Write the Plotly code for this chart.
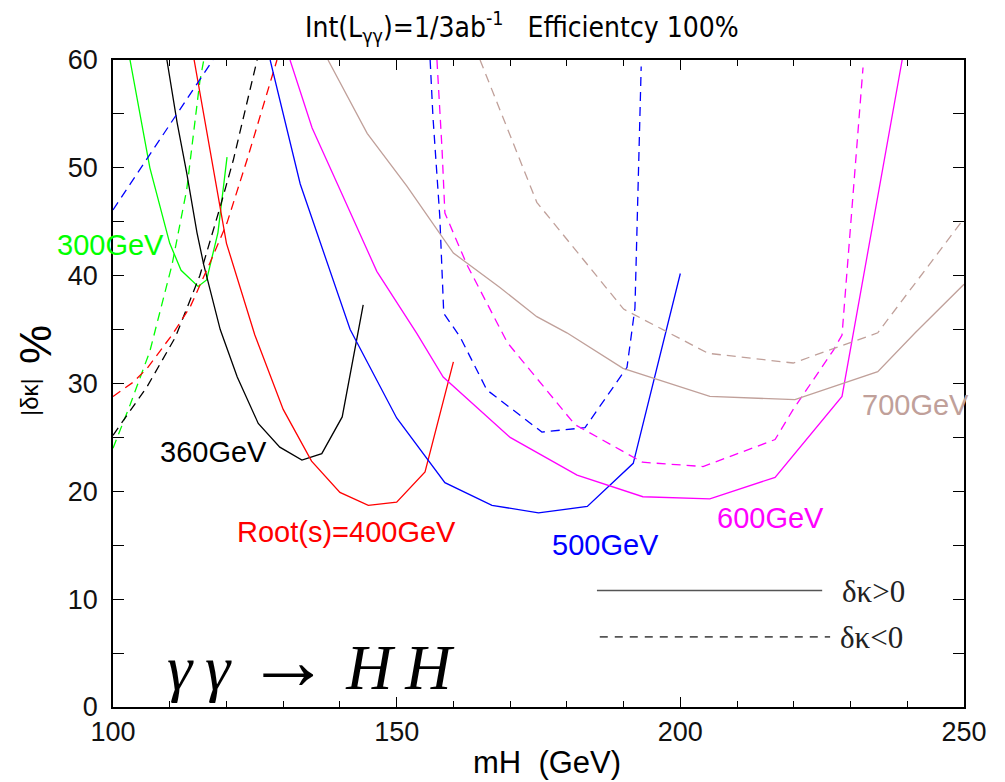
import plotly.graph_objects as go

# ---------------- data ----------------
# 300 GeV
mh_300_pos = [103, 106.5, 110, 112, 115, 116.5, 118.5, 120.1]
dk_300_pos = [60, 50, 43, 40.5, 39, 39.6, 44, 51]
mh_300_neg = [100, 103, 106.5, 110.4, 113, 115.3, 116]
dk_300_neg = [24, 28, 33, 41, 48, 58, 60]

# 360 GeV
mh_360_pos = [109.5, 111.3, 113, 114.8, 116, 118.9, 121.9, 125.6, 129.4, 133.3, 136.8, 140.4, 144.1]
dk_360_pos = [60, 54.2, 49.5, 44, 41, 35, 30.6, 26.3, 24.1, 22.9, 23.5, 26.9, 37.3]
mh_360_neg = [100, 106, 111, 115.3, 118.9, 121.2, 125.4]
dk_360_neg = [25.2, 29.7, 34.3, 40, 46.4, 50.7, 60]

# 400 GeV
mh_400_pos = [114.3, 117, 120, 125, 130, 135, 140, 145, 150, 155, 160]
dk_400_pos = [60, 52, 43, 34.5, 27.6, 22.8, 19.9, 18.7, 19.0, 21.8, 32.0]
mh_400_neg = [100, 103.5, 106, 110.4, 113.6, 117.1, 120.1, 123.6, 128.9]
dk_400_neg = [28.8, 30.1, 31.4, 34.5, 37.1, 41.2, 44.9, 50.7, 60]

# 500 GeV
mh_500_pos = [127.7, 133, 141.8, 150, 158.5, 166.8, 175, 183.6, 191.7, 200]
dk_500_pos = [60, 48.5, 35, 26.8, 20.8, 18.7, 18.0, 18.6, 22.6, 40.2]
mh_500_neg = [100, 117.6, None, 155.9, 156.4, 157.6, 158.3, 161.2, 165.9, 175.6, 183.2, 190.6, 192, 193.1]
dk_500_neg = [46.1, 60, None, 60, 54.7, 45.5, 36.5, 34.3, 29.4, 25.5, 25.9, 31.5, 37, 59.4]

# 600 GeV
mh_600_pos = [131.2, 135.1, 140, 146.5, 153.6, 158.2, 170, 181.8, 193.4, 205.2, 216.7, 228.5, 239.1]
dk_600_pos = [60, 53.7, 48, 40.4, 34.6, 30.6, 25, 21.5, 19.5, 19.3, 21.3, 28.8, 60]
mh_600_neg = [157.1, 158, 158.5, 162.4, 169.5, 181.4, 193.3, 204, 216.7, 219.9, 227, 228.5, 232.2]
dk_600_neg = [60, 51.7, 45.8, 41, 33.8, 26.2, 22.7, 22.3, 24.8, 27.6, 33.1, 34.5, 59.3]

# 700 GeV
mh_700_pos = [137.9, 144.8, 151.8, 160, 168.2, 174.7, 180, 189.9, 205.2, 220.2, 234.8, 241.4, 250]
dk_700_pos = [60, 53.2, 48.3, 42.1, 38.9, 36.2, 34.7, 31.4, 28.8, 28.5, 31.1, 34.7, 39.2]
mh_700_neg = [164.7, 174.7, 190, 204.9, 219.9, 234.8, 250]
dk_700_neg = [60, 46.8, 36.9, 32.8, 31.9, 34.7, 45.3]

x_ticks = [100, 150, 200, 250]
y_ticks = [0, 10, 20, 30, 40, 50, 60]

# ---------------- styling ----------------
GREEN = "#00ff00"
BLACK = "#000000"
RED = "#ff0000"
BLUE = "#0000ff"
MAGENTA = "#ff00ff"
BROWN = "#c0a09a"
DASH = "9px,6px"
LW = 1.3

series = [
    (mh_300_pos, dk_300_pos, GREEN, "solid"),
    (mh_300_neg, dk_300_neg, GREEN, DASH),
    (mh_360_pos, dk_360_pos, BLACK, "solid"),
    (mh_360_neg, dk_360_neg, BLACK, DASH),
    (mh_400_pos, dk_400_pos, RED, "solid"),
    (mh_400_neg, dk_400_neg, RED, DASH),
    (mh_500_pos, dk_500_pos, BLUE, "solid"),
    (mh_500_neg, dk_500_neg, BLUE, DASH),
    (mh_600_pos, dk_600_pos, MAGENTA, "solid"),
    (mh_600_neg, dk_600_neg, MAGENTA, DASH),
    (mh_700_pos, dk_700_pos, BROWN, "solid"),
    (mh_700_neg, dk_700_neg, BROWN, DASH),
]

fig = go.Figure()
for xs, ys, col, dash in series:
    fig.add_trace(go.Scatter(x=xs, y=ys, mode="lines", connectgaps=False,
                             line=dict(color=col, width=LW, dash=dash),
                             hoverinfo="skip", showlegend=False))

SANS = "Liberation Sans, Arial, sans-serif"
SERIF = "Liberation Serif, Times New Roman, serif"
NARROW = "Liberation Sans Narrow, DejaVu Sans Condensed, Arial Narrow, sans-serif"

# plot area in page pixels (the page body adds an 8 px offset)
PL, PR, PT, PB = 113, 964, 60, 707


def px(xp):
    return (xp - PL) / (PR - PL)


def py(yp):
    return (PB - yp) / (PB - PT)


# curve labels, placed in page pixels (left edge, vertical centre)
labels = [
    ("300GeV", 55, 245, GREEN),
    ("360GeV", 158, 452, BLACK),
    ("Root(s)=400GeV", 235, 532, RED),
    ("500GeV", 550, 545, BLUE),
    ("600GeV", 715, 518, MAGENTA),
    ("700GeV", 860, 405, BROWN),
]
for txt, xp, yp, col in labels:
    fig.add_annotation(x=px(xp), y=py(yp), xref="paper", yref="paper", text=txt, showarrow=False,
                       xanchor="left", yanchor="middle",
                       font=dict(family=SANS, size=29, color=col))

# legend keys
fig.add_shape(type="line", x0=185.3, x1=225.0, y0=10.8, y1=10.8, xref="x", yref="y",
              line=dict(color="#555555", width=1.6))
fig.add_shape(type="line", x0=185.8, x1=226.4, y0=6.5, y1=6.5, xref="x", yref="y",
              line=dict(color="#555555", width=1.6, dash="8px,7px"))
for txt, xp, yp in [("δκ&gt;0", 840, 591), ("δκ&lt;0", 838, 637)]:
    fig.add_annotation(x=px(xp), y=py(yp), xref="paper", yref="paper", text=txt, showarrow=False,
                       xanchor="left", yanchor="middle",
                       font=dict(family=SERIF, size=31, color="#222"))

# process label
fig.add_annotation(x=px(165), y=py(660), xref="paper", yref="paper",
                   text="<i>γ\u2009γ</i> <span style='font-size:84px'>→</span> <i>H\u2009H</i>",
                   showarrow=False, xanchor="left", yanchor="middle",
                   font=dict(family=SERIF, size=64, color="black"))

# title
fig.add_annotation(x=px(522), y=py(27), xref="paper", yref="paper",
                   text="Int(L<sub>γγ</sub>)=1/3ab<sup>-1</sup>\u00a0\u00a0\u00a0Efficientcy 100%",
                   showarrow=False, xanchor="center", yanchor="middle",
                   font=dict(family=NARROW, size=28, color="black"))

# y-axis title parts
fig.add_annotation(x=px(35), y=py(345), xref="paper", yref="paper",
                   text="%", textangle=-90, showarrow=False, xanchor="center", yanchor="middle",
                   font=dict(family=SANS, size=44, color="black"))
fig.add_annotation(x=px(30), y=py(397), xref="paper", yref="paper",
                   text="|δκ|", textangle=-90, showarrow=False, xanchor="center", yanchor="middle",
                   font=dict(family=SANS, size=24, color="black"))

# x-axis title
fig.add_annotation(x=px(547), y=py(762), xref="paper", yref="paper",
                   text="mH\u00a0\u00a0(GeV)", showarrow=False, xanchor="center", yanchor="middle",
                   font=dict(family=SANS, size=31, color="black"))

fig.update_layout(
    width=1005, height=782,
    margin=dict(l=PL - 8, r=1005 + 8 - PR, t=PT - 8, b=782 + 8 - PB),
    paper_bgcolor="white", plot_bgcolor="white",
    showlegend=False,
)
fig.update_xaxes(range=[100, 250], tickvals=x_ticks, ticktext=[str(v) for v in x_ticks],
                 ticks="inside", ticklen=10, tickwidth=1.2, tickcolor="black",
                 minor=dict(dtick=10, tick0=100, ticks="inside", ticklen=6, tickwidth=1.2, tickcolor="black"),
                 showline=True, linecolor="black", linewidth=1.5, mirror="ticks",
                 showgrid=False, zeroline=False, automargin=False,
                 tickfont=dict(family=SANS, size=27, color="#111"))
fig.update_yaxes(range=[0, 60], tickvals=y_ticks, ticktext=[str(v) for v in y_ticks],
                 ticks="inside", ticklen=11, tickwidth=1.2, tickcolor="black",
                 minor=dict(dtick=5, tick0=0, ticks="inside", ticklen=11, tickwidth=1.2, tickcolor="black"),
                 showline=True, linecolor="black", linewidth=1.5, mirror="ticks",
                 showgrid=False, zeroline=False, automargin=False,
                 ticklabelstandoff=8,
                 tickfont=dict(family=SANS, size=27, color="#111"))

fig.write_html("out.html")
